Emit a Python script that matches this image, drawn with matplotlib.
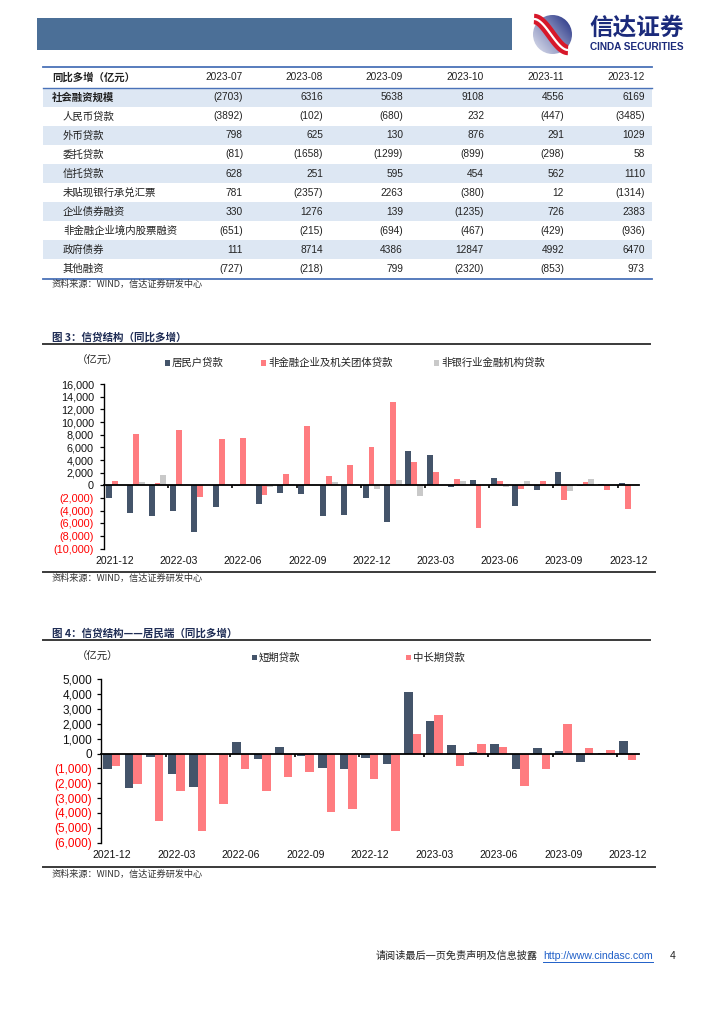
import matplotlib
matplotlib.use('Agg')
import matplotlib.pyplot as plt
from matplotlib.patches import Rectangle, Circle
from matplotlib.colors import LinearSegmentedColormap
import numpy as np

plt.rcParams['font.family'] = ['Noto Sans CJK SC', 'DejaVu Sans']
NUM_FONT = ['Liberation Sans', 'Noto Sans CJK SC']

# ---- table data (同比多增, 亿元) ----
tbl_cols = ['2023-07', '2023-08', '2023-09', '2023-10', '2023-11', '2023-12']
tbl_rows = ['社会融资规模', '人民币贷款', '外币贷款', '委托贷款', '信托贷款',
            '未贴现银行承兑汇票', '企业债券融资', '非金融企业境内股票融资',
            '政府债券', '其他融资']
tbl_vals = [
    [-2703, 6316, 5638, 9108, 4556, 6169],
    [-3892, -102, -680, 232, -447, -3485],
    [798, 625, 130, 876, 291, 1029],
    [-81, -1658, -1299, -899, -298, 58],
    [628, 251, 595, 454, 562, 1110],
    [781, -2357, 2263, -380, 12, -1314],
    [330, 1276, 139, -1235, 726, 2383],
    [-651, -215, -694, -467, -429, -936],
    [111, 8714, 4386, 12847, 4992, 6470],
    [-727, -218, 799, -2320, -853, 973],
]

# ---- chart data, 2021-12 .. 2023-12 ----
months = ['2021-12', '2022-01', '2022-02', '2022-03', '2022-04', '2022-05',
          '2022-06', '2022-07', '2022-08', '2022-09', '2022-10', '2022-11',
          '2022-12', '2023-01', '2023-02', '2023-03', '2023-04', '2023-05',
          '2023-06', '2023-07', '2023-08', '2023-09', '2023-10', '2023-11',
          '2023-12']
hh_loans = [-1950, -4300, -4870, -3980, -7430, -3350, -150, -2880, -1200,
            -1410, -4870, -4710, -2040, -5860, 5390, 4870, -300, 790, 1100,
            -3250, -680, 2040, -100, 260, 420]
corp_loans = [700, 8060, 370, 8800, -1830, 7280, 7540, -1520, 1780, 9370,
              1520, 3140, 6020, 13200, 3660, 2150, 1000, -6750, 630, -520,
              680, -2360, 520, -680, -3770]
nbfi_loans = [0, 580, 1620, 0, 0, 0, 200, -300, 200, 0, 520, 200, -600, 840,
              -1620, 0, 680, 0, -300, 630, 0, -890, 940, 0, 0]

short_loans = [-1010, -2290, -220, -1390, -2220, 0, 760, -360, 430, -180,
               -940, -1010, -270, -670, 4130, 2220, 610, 130, 630, -1050,
               400, 180, -540, 70, 850]
long_loans = [-830, -2020, -4570, -2490, -5200, -3390, -1010, -2490, -1610,
              -1210, -3900, -3720, -1680, -5180, 1320, 2620, -830, 630, 470,
              -2150, -1030, 2020, 380, 220, -400]

NAVY = '#44546A'
SALMON = '#FF7C80'
GREY = '#C9C9C9'
TITLE_C = '#1F2D55'

W, H = 724, 1024
fig = plt.figure(figsize=(7.24, 10.24), dpi=100)
bg = fig.add_axes([0, 0, 1, 1])
bg.axis('off')


def px_axes(l, t, r, b):
    return fig.add_axes([l / W, 1 - b / H, (r - l) / W, (b - t) / H])


def paren(v, comma=False):
    s = f'{abs(v):,}' if comma else str(abs(v))
    return f'({s})' if v < 0 else s


# ---- header ----
bg.add_patch(Rectangle((37, 18), 475, 32, color='#4B6F97', lw=0))

yy, xx = np.mgrid[0:1:120j, 0:1:120j]
grad = 0.55 * xx + 0.45 * (1 - yy)
cm = LinearSegmentedColormap.from_list('lg', ['#E2E5F0', '#8890BE', '#1D2B80'])
im = bg.imshow(grad, cmap=cm, extent=(533, 572, 54, 15), zorder=2)
circ = Circle((552.5, 34.5), 19.5, transform=bg.transData, facecolor='none', lw=0)
bg.add_patch(circ)
im.set_clip_path(circ)
t = np.linspace(0, 1, 60)
sx = 534 + 34 * t
sy = 19 + 31 * (3 * t ** 2 - 2 * t ** 3)
bg.plot(sx, sy, color='#D7182A', lw=7.5, solid_capstyle='butt', zorder=3)
bg.plot(sx, sy, color='white', lw=1.6, solid_capstyle='butt', zorder=4)
bg.text(589, 27.5, '信达证券', fontsize=17, fontweight='bold', color='#1B2A7B',
        va='center', ha='left')
bg.text(590, 46.5, 'CINDA SECURITIES', fontsize=7.2, fontweight='bold',
        color='#1B2A7B', va='center', ha='left', family=NUM_FONT)

# ---- table ----
tl, tr = 43, 652
top_y, head_y, row_h = 66.7, 87.7, 19.08
col_x = [243, 323, 403, 484, 564, 645]
LINE_C = '#4A72B8'
for r in range(len(tbl_rows)):
    y0 = head_y + r * row_h
    if r % 2 == 0:
        bg.add_patch(Rectangle((tl, y0), tr - tl, row_h, color='#DDE7F3', lw=0))
    yc = y0 + row_h / 2
    bold = r == 0
    bg.text(52 if bold else 63, yc, tbl_rows[r], fontsize=7.5,
            fontweight='bold' if bold else 'normal', va='center', ha='left',
            color='#222222')
    for c, v in enumerate(tbl_vals[r]):
        bg.text(col_x[c], yc, paren(v), fontsize=7.3, va='center', ha='right',
                family=NUM_FONT, color='#222222')
bg.text(52, (top_y + head_y) / 2, '同比多增（亿元）', fontsize=7.5,
        fontweight='bold', va='center', ha='left', color='#222222')
for c, name in enumerate(tbl_cols):
    bg.text(col_x[c], (top_y + head_y) / 2, name, fontsize=7.3, va='center',
            ha='right', family=NUM_FONT, color='#222222')
bottom_y = head_y + len(tbl_rows) * row_h
for yl, lw in [(top_y, 1.3), (head_y, 1.0), (bottom_y, 1.3)]:
    bg.plot([tl, tr], [yl, yl], color=LINE_C, lw=lw)
bg.text(52, 284.5, '资料来源：WIND，信达证券研发中心', fontsize=6.6,
        va='center', ha='left', color='#333333')


# ---- chart helpers ----
def section(title, ty, line_y, bottom_line_y, src_y):
    bg.text(52.5, ty, title, fontsize=7.6, fontweight='bold', color=TITLE_C,
            va='center', ha='left')
    bg.plot([43, 650], [line_y, line_y], color='#3A3A3A', lw=1.4)
    bg.plot([43, 655], [bottom_line_y, bottom_line_y], color='#3A3A3A', lw=1.4)
    bg.text(52, src_y, '资料来源：WIND，信达证券研发中心', fontsize=6.6,
            va='center', ha='left', color='#333333')


def legend_item(x, y, color, label):
    bg.add_patch(Rectangle((x, y - 2.6), 5.2, 5.2, color=color, lw=0))
    bg.text(x + 7, y, label, fontsize=7.5, va='center', ha='left',
            color='#222222')


def style_axes(ax, ymin, ymax, step, fsize, pad):
    ax.set_facecolor('none')
    ax.set_xlim(-0.5, len(months) - 0.5)
    ax.set_ylim(ymin, ymax)
    for s in ['top', 'right']:
        ax.spines[s].set_visible(False)
    ax.spines['bottom'].set_position(('data', 0))
    ax.spines['bottom'].set_linewidth(1.3)
    ax.spines['left'].set_linewidth(1.0)
    ticks = np.arange(ymin, ymax + 1, step)
    ax.set_yticks(ticks)
    ax.set_yticklabels([paren(int(v), comma=True) for v in ticks],
                       family=NUM_FONT, fontsize=fsize)
    for lab, v in zip(ax.get_yticklabels(), ticks):
        lab.set_color('#FF0000' if v < 0 else '#111111')
    ax.tick_params(axis='y', length=3, width=0.9, pad=pad)
    ax.set_xticks(np.arange(2.5, len(months) - 1, 3))
    ax.set_xticklabels([])
    ax.tick_params(axis='x', length=2.5, width=1.2, direction='out')
    for i in range(0, len(months), 3):
        ax.text(i, -0.075, months[i], transform=ax.get_xaxis_transform(),
                ha='center', va='center', fontsize=7.5, family=NUM_FONT,
                color='#111111')


# ---- 图 3 ----
section('图 3：信贷结构（同比多增）', 337.3, 344.3, 571.7, 578.5)
bg.text(77, 361, '（亿元）', fontsize=7.5, va='center', ha='left', color='#222222')
legend_item(164.5, 363, NAVY, '居民户贷款')
legend_item(261, 363, SALMON, '非金融企业及机关团体贷款')
legend_item(434, 363, GREY, '非银行业金融机构贷款')

ax3 = px_axes(104, 384, 639, 548.7)
x = np.arange(len(months))
bw = 0.28
ax3.bar(x - bw, hh_loans, bw, color=NAVY, lw=0)
ax3.bar(x, corp_loans, bw, color=SALMON, lw=0)
ax3.bar(x + bw, nbfi_loans, bw, color=GREY, lw=0)
style_axes(ax3, -10000, 16000, 2000, 7.8, 4.3)

# ---- 图 4 ----
section('图 4：信贷结构——居民端（同比多增）', 633.3, 640.3, 867.3, 874)
bg.text(77, 656.7, '（亿元）', fontsize=7.5, va='center', ha='left', color='#222222')
legend_item(252, 657.7, NAVY, '短期贷款')
legend_item(405.5, 657.7, SALMON, '中长期贷款')

ax4 = px_axes(101, 679.3, 638.5, 842.7)
bw4 = 0.385
ax4.bar(x - bw4 / 2, short_loans, bw4, color=NAVY, lw=0)
ax4.bar(x + bw4 / 2, long_loans, bw4, color=SALMON, lw=0)
style_axes(ax4, -6000, 5000, 1000, 8.5, 3.4)

# ---- footer ----
bg.text(538, 956, '请阅读最后一页免责声明及信息披露', fontsize=7.3, va='center',
        ha='right', color='#222222')
link = bg.text(543, 956, 'http://www.cindasc.com', fontsize=7.6, va='center',
               ha='left', color='#1F5FC8', family=NUM_FONT)
bg.text(670, 956, '4', fontsize=7.6, va='center', ha='left', color='#222222',
        family=NUM_FONT)

bg.set_xlim(0, W)
bg.set_ylim(H, 0)
fig.canvas.draw()
bb = link.get_window_extent().transformed(bg.transData.inverted())
bg.plot([bb.x0, bb.x1], [961.5, 961.5], color='#1F5FC8', lw=0.7)
bg.set_xlim(0, W)
bg.set_ylim(H, 0)

fig.savefig('out.png', dpi=100)
